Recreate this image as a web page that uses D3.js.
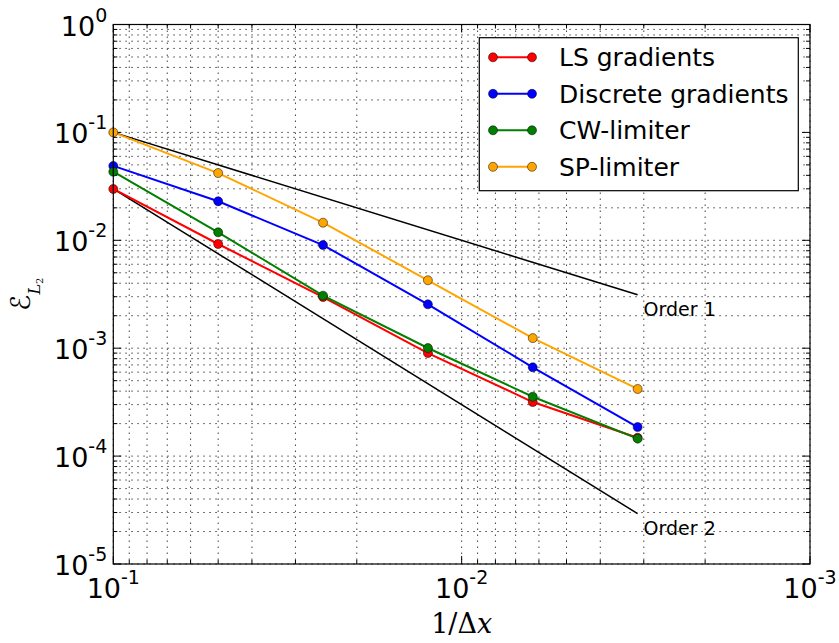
<!DOCTYPE html>
<html>
<head>
<meta charset="utf-8">
<script src="https://cdn.jsdelivr.net/npm/d3@7"></script>
<style>
  html, body { margin: 0; padding: 0; background: #fff; }
  svg { display: block; }
  text { font-family: "DejaVu Sans", sans-serif; fill: #000; }
</style>
</head>
<body>
<svg id="chart" width="839" height="643"></svg>
<script>
// Mesh spacing (1/Δx) for each refinement level
const meshSizes = [1/10, 1/20, 1/40, 1/80, 1/160, 1/320];

// L2 error per method
const lsGradients       = [0.0299, 0.00924, 0.00298, 0.000902, 0.000317, 0.000148];
const discreteGradients = [0.0489, 0.0230, 0.00904, 0.00255, 0.000665, 0.000186];
const cwLimiter         = [0.0432, 0.01186, 0.00307, 0.001004, 0.000355, 0.000145];
const spLimiter         = [0.1000, 0.0420, 0.01456, 0.00426, 0.00124, 0.000419];

const seriesNames  = ["LS gradients", "Discrete gradients", "CW-limiter", "SP-limiter"];
const seriesColors = ["#ff0000", "#0000ff", "#007f00", "#ffa500"];
const seriesValues = [lsGradients, discreteGradients, cwLimiter, spLimiter];

// Reference slopes: label, order, starting error at the coarsest mesh
const orderLabels = ["Order 1", "Order 2"];
const orderSlopes = [1, 2];
const orderStarts = [0.1, 0.03];

// Axis decades
const xTickValues = [1e-1, 1e-2, 1e-3];
const xTickExps   = ["-1", "-2", "-3"];
const yTickValues = [1, 1e-1, 1e-2, 1e-3, 1e-4, 1e-5];
const yTickExps   = ["0", "-1", "-2", "-3", "-4", "-5"];

const svg = d3.select("#chart");
const plot = { left: 113.3, right: 810, top: 24.5, bottom: 564 };

const x = d3.scaleLog().domain([1e-1, 1e-3]).range([plot.left, plot.right]);
const y = d3.scaleLog().domain([1, 1e-5]).range([plot.top, plot.bottom]);

// Minor tick positions per decade
function minorTicks(lo, hi) {
  const out = [];
  for (let e = Math.floor(Math.log10(lo)); e < Math.ceil(Math.log10(hi)); e++) {
    for (let m = 2; m <= 9; m++) out.push(m * Math.pow(10, e));
  }
  return out;
}
const xMinor = minorTicks(1e-3, 1e-1);
const yMinor = minorTicks(1e-5, 1);

// Dotted grid on both major and minor ticks
const grid = svg.append("g").attr("class", "grid")
  .attr("stroke", "#444").attr("stroke-width", 1)
  .attr("stroke-dasharray", "1.5,4.5");
grid.selectAll("line.gx").data(xTickValues.concat(xMinor)).join("line")
  .attr("class", "gx")
  .attr("x1", d => x(d)).attr("x2", d => x(d))
  .attr("y1", plot.top).attr("y2", plot.bottom);
grid.selectAll("line.gy").data(yTickValues.concat(yMinor)).join("line")
  .attr("class", "gy")
  .attr("x1", plot.left).attr("x2", plot.right)
  .attr("y1", d => y(d)).attr("y2", d => y(d));

// Inward ticks on all four sides
const ticks = svg.append("g").attr("stroke", "#000").attr("stroke-width", 1);
function addTicks(vals, len) {
  vals.forEach(v => {
    const px = x(v);
    ticks.append("line").attr("x1", px).attr("x2", px).attr("y1", plot.bottom).attr("y2", plot.bottom - len);
    ticks.append("line").attr("x1", px).attr("x2", px).attr("y1", plot.top).attr("y2", plot.top + len);
  });
}
function addYTicks(vals, len) {
  vals.forEach(v => {
    const py = y(v);
    ticks.append("line").attr("x1", plot.left).attr("x2", plot.left + len).attr("y1", py).attr("y2", py);
    ticks.append("line").attr("x1", plot.right).attr("x2", plot.right - len).attr("y1", py).attr("y2", py);
  });
}
addTicks(xTickValues, 8); addTicks(xMinor, 4);
addYTicks(yTickValues, 8); addYTicks(yMinor, 4);

// Reference order lines
const orderG = svg.append("g");
orderLabels.forEach((lab, i) => {
  const x0 = meshSizes[0], x1 = meshSizes[meshSizes.length - 1];
  const y0 = orderStarts[i];
  const y1 = y0 * Math.pow(x1 / x0, orderSlopes[i]);
  orderG.append("line")
    .attr("x1", x(x0)).attr("y1", y(y0)).attr("x2", x(x1)).attr("y2", y(y1))
    .attr("stroke", "#000").attr("stroke-width", 1.5);
  orderG.append("text")
    .attr("x", x(x1) + 6).attr("y", y(y1) + 21)
    .attr("font-size", 19).text(lab);
});

// Data series
const line = d3.line().x((d, i) => x(meshSizes[i])).y(d => y(d));
seriesValues.forEach((vals, s) => {
  const g = svg.append("g");
  g.append("path").datum(vals).attr("d", line)
    .attr("fill", "none").attr("stroke", seriesColors[s]).attr("stroke-width", 2);
  g.selectAll("circle").data(vals).join("circle")
    .attr("cx", (d, i) => x(meshSizes[i])).attr("cy", d => y(d)).attr("r", 4.5)
    .attr("fill", seriesColors[s]).attr("stroke", "#000").attr("stroke-width", 0.5);
});

// Plot frame
svg.append("rect")
  .attr("x", plot.left).attr("y", plot.top)
  .attr("width", plot.right - plot.left).attr("height", plot.bottom - plot.top)
  .attr("fill", "none").attr("stroke", "#000").attr("stroke-width", 1.2);

// Tick labels with exponents
function powerLabel(sel, exp) {
  sel.append("tspan").text("10");
  sel.append("tspan").attr("font-size", 19).attr("dy", -14).text(exp);
}
xTickValues.forEach((v, i) => {
  const t = svg.append("text").attr("x", x(v)).attr("y", plot.bottom + 34)
    .attr("text-anchor", "middle").attr("font-size", 27);
  powerLabel(t, xTickExps[i]);
});
yTickValues.forEach((v, i) => {
  const t = svg.append("text").attr("x", plot.left - 6).attr("y", y(v) + 11)
    .attr("text-anchor", "end").attr("font-size", 27);
  powerLabel(t, yTickExps[i]);
});

// Axis titles
const xt = svg.append("text")
  .attr("x", x(1e-2)).attr("y", 633).attr("text-anchor", "middle")
  .attr("font-size", 27).style("font-family", "'DejaVu Serif', serif");
xt.append("tspan").text("1/Δ");
xt.append("tspan").attr("font-style", "italic").text("x");

const yt = svg.append("text")
  .attr("transform", `translate(30, ${(plot.top + plot.bottom) / 2}) rotate(-90)`)
  .attr("text-anchor", "middle")
  .style("font-family", "'DejaVu Serif', serif");
yt.append("tspan").attr("font-size", 27).style("font-family", "'DejaVu Sans', sans-serif").text("ℰ");
yt.append("tspan").attr("font-size", 16).attr("font-style", "italic").attr("dy", 10).text("L");
yt.append("tspan").attr("font-size", 10).attr("dy", 3).text("2");

// Legend
const legend = { x: 479.3, y: 37.7, w: 319, h: 153, row0: 57.3, step: 36.5 };
const lg = svg.append("g");
lg.append("rect").attr("x", legend.x).attr("y", legend.y)
  .attr("width", legend.w).attr("height", legend.h)
  .attr("fill", "#fff").attr("stroke", "#000").attr("stroke-width", 1.2);
seriesNames.forEach((name, s) => {
  const cy = legend.row0 + s * legend.step;
  lg.append("line").attr("x1", 493).attr("x2", 532).attr("y1", cy).attr("y2", cy)
    .attr("stroke", seriesColors[s]).attr("stroke-width", 2);
  [493, 532].forEach(cx => lg.append("circle").attr("cx", cx).attr("cy", cy).attr("r", 4.5)
    .attr("fill", seriesColors[s]).attr("stroke", "#000").attr("stroke-width", 0.5));
  lg.append("text").attr("x", 559).attr("y", cy + 9).attr("font-size", 25).text(name);
});
</script>
</body>
</html>
